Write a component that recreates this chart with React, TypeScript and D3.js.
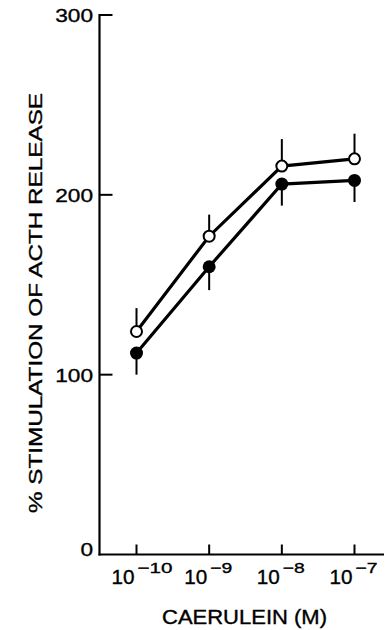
import { useRef, useEffect } from "react";
import * as d3 from "d3";

// caerulein concentration (M) and exponent labels
const concentrations = [1e-10, 1e-9, 1e-8, 1e-7];
const exponents = ["−10", "−9", "−8", "−7"];
const yTicks = [0, 100, 200, 300];

// open circles: mean and SEM (bars drawn upward)
const openMeans = [124, 177, 216, 220];
const openSem = [13, 12, 15, 14];

// filled circles: mean and SEM (bars drawn downward)
const filledMeans = [112, 160, 206, 208];
const filledSem = [12, 13, 12, 12];

export default function App() {
  const ref = useRef<SVGSVGElement>(null);

  useEffect(() => {
    const svg = d3.select(ref.current);
    svg.selectAll("*").remove();

    const width = 388;
    const height = 630;
    const font = "'Liberation Sans', Arial, Helvetica, sans-serif";
    const axisX = 99.5;
    const axisY = 554.5;

    svg.attr("width", width).attr("height", height);

    const x = d3.scaleLog().domain([1e-10, 1e-7]).range([136.5, 354.5]);
    const y = d3.scaleLinear().domain([0, 300]).range([axisY, 15]);

    // text helper, stretched a little like the printed figure
    const label = (sel: any, size: number, len?: number) => {
      sel.attr("font-family", font)
        .attr("font-size", size)
        .attr("fill", "#000")
        .attr("stroke", "#000")
        .attr("stroke-width", 0.35);
      if (len) sel.attr("textLength", len).attr("lengthAdjust", "spacingAndGlyphs");
      return sel;
    };

    // axes
    svg.append("line")
      .attr("x1", axisX).attr("x2", axisX)
      .attr("y1", y(300) - 1).attr("y2", axisY + 1)
      .attr("stroke", "#000").attr("stroke-width", 2.2);
    svg.append("line")
      .attr("x1", axisX - 1).attr("x2", 384)
      .attr("y1", axisY).attr("y2", axisY)
      .attr("stroke", "#000").attr("stroke-width", 2.2);

    // y ticks (inward)
    yTicks.forEach(t => {
      if (t > 0) {
        svg.append("line")
          .attr("x1", axisX).attr("x2", axisX + 13)
          .attr("y1", y(t)).attr("y2", y(t))
          .attr("stroke", "#000").attr("stroke-width", 2);
      }
      const s = String(t);
      label(svg.append("text")
        .attr("x", 93)
        .attr("y", y(t) + (t === 0 ? 1 : 7))
        .attr("text-anchor", "end")
        .text(s), 19, s.length * 12.6);
    });

    // x ticks (inward) with 10^n labels
    concentrations.forEach((c, i) => {
      const cx = x(c);
      svg.append("line")
        .attr("x1", cx).attr("x2", cx)
        .attr("y1", axisY).attr("y2", axisY - 10)
        .attr("stroke", "#000").attr("stroke-width", 2);
      label(svg.append("text")
        .attr("x", cx - 2)
        .attr("y", 584)
        .attr("text-anchor", "end")
        .text("10"), 20, 23);
      label(svg.append("text")
        .attr("x", cx + 1)
        .attr("y", 572.5)
        .text(exponents[i]), 15, exponents[i].length === 3 ? 35 : 22);
    });

    // axis titles
    label(svg.append("text")
      .attr("x", 244.5)
      .attr("y", 624)
      .attr("text-anchor", "middle")
      .text("CAERULEIN (M)"), 19.5, 165);

    label(svg.append("text")
      .attr("transform", "translate(42,303) rotate(-90)")
      .attr("text-anchor", "middle")
      .text("% STIMULATION OF ACTH RELEASE"), 18, 420);

    const line = d3.line<number>()
      .x((_, i) => x(concentrations[i]))
      .y(d => y(d));

    // error bars
    concentrations.forEach((c, i) => {
      svg.append("line")
        .attr("x1", x(c)).attr("x2", x(c))
        .attr("y1", y(openMeans[i])).attr("y2", y(openMeans[i] + openSem[i]))
        .attr("stroke", "#000").attr("stroke-width", 2);
      svg.append("line")
        .attr("x1", x(c)).attr("x2", x(c))
        .attr("y1", y(filledMeans[i])).attr("y2", y(filledMeans[i] - filledSem[i]))
        .attr("stroke", "#000").attr("stroke-width", 2);
    });

    svg.append("path")
      .datum(openMeans)
      .attr("d", line)
      .attr("fill", "none")
      .attr("stroke", "#000")
      .attr("stroke-width", 3.2);
    svg.append("path")
      .datum(filledMeans)
      .attr("d", line)
      .attr("fill", "none")
      .attr("stroke", "#000")
      .attr("stroke-width", 3.2);

    svg.selectAll("circle.open")
      .data(openMeans)
      .enter()
      .append("circle")
      .attr("class", "open")
      .attr("cx", (_, i) => x(concentrations[i]))
      .attr("cy", d => y(d))
      .attr("r", 5.5)
      .attr("fill", "#fff")
      .attr("stroke", "#000")
      .attr("stroke-width", 2);

    svg.selectAll("circle.filled")
      .data(filledMeans)
      .enter()
      .append("circle")
      .attr("class", "filled")
      .attr("cx", (_, i) => x(concentrations[i]))
      .attr("cy", d => y(d))
      .attr("r", 6.5)
      .attr("fill", "#000");
  }, []);

  return (
    <svg ref={ref} style={{ position: "absolute", left: 0, top: 0, background: "#fff" }}></svg>
  );
}
